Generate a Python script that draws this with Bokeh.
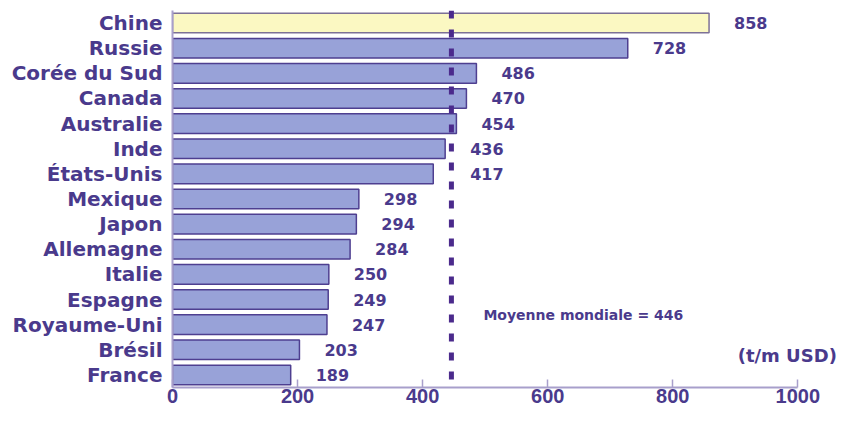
from bokeh.plotting import figure
from bokeh.models import Range1d, FactorRange, Span, Label, ColumnDataSource, FixedTicker
from bokeh.core.properties import value
from bokeh.embed import file_html
from bokeh.resources import INLINE

countries = ["Chine", "Russie", "Corée du Sud", "Canada", "Australie", "Inde", "États-Unis",
             "Mexique", "Japon", "Allemagne", "Italie", "Espagne", "Royaume-Uni", "Brésil", "France"]
values = [858, 728, 486, 470, 454, 436, 417, 298, 294, 284, 250, 249, 247, 203, 189]
world_mean = 446
x_ticks = [0, 200, 400, 600, 800, 1000]
unit_label = "(t/m USD)"
mean_label = "Moyenne mondiale = 446"

FONT = "DejaVu Sans"
TICKFONT = "Liberation Sans"
TXT = "#4a3a8c"
AXIS = "#a89fcb"

fills = ["#fbf8c2" if c == "Chine" else "#98a2d8" for c in countries]
lines = ["#7d7196" if c == "Chine" else "#4e3f90" for c in countries]


def label_pos(v):
    # value label right of the bar, pushed past the mean line when it would overlap it
    x = v + 40
    if world_mean - 60 < x < world_mean + 30:
        x = world_mean + 30
    return x


label_x = [label_pos(v) for v in values]
src = ColumnDataSource(dict(y=countries, v=values, lx=label_x, fill=fills, line=lines,
                            lab=[str(v) for v in values]))

p = figure(width=838, height=407, output_backend="svg", toolbar_location=None,
           x_range=Range1d(0, 1065), y_range=FactorRange(factors=countries[::-1]),
           min_border_left=172, min_border_right=0, min_border_top=10, min_border_bottom=20)
p.outline_line_color = None
p.xgrid.grid_line_color = None
p.ygrid.grid_line_color = None
p.background_fill_color = "white"

p.hbar(y="y", left=0, right="v", height=0.78, fill_color="fill", line_color="line",
       line_width=1.5, source=src)

p.text(x="lx", y="y", text="lab", text_align="left", text_baseline="middle",
       text_font=value(FONT), text_font_style="bold", text_font_size="16px",
       text_color=TXT, source=src)

p.add_layout(Span(location=world_mean, dimension="height", line_color="#4b2a8c",
                  line_width=5, line_dash="8 11"))

p.add_layout(Label(x=world_mean, y=2.9, x_offset=32, text=mean_label, text_align="left",
                   text_baseline="middle", text_font=FONT, text_font_style="bold",
                   text_font_size="14px", text_color=TXT))
p.add_layout(Label(x=1000, y=1.27, x_offset=39, text=unit_label, text_align="right",
                   text_baseline="middle", text_font=FONT, text_font_style="bold",
                   text_font_size="18px", text_color=TXT))

xa = p.xaxis[0]
xa.ticker = FixedTicker(ticks=x_ticks)
xa.bounds = (x_ticks[0], x_ticks[-1])
xa.axis_line_color = AXIS
xa.axis_line_width = 2
xa.major_tick_line_color = AXIS
xa.major_tick_line_width = 1.5
xa.major_tick_in = 8
xa.major_tick_out = 0
xa.minor_tick_line_color = None
xa.major_label_standoff = 1
xa.major_label_text_font = TICKFONT
xa.major_label_text_font_style = "bold"
xa.major_label_text_font_size = "20px"
xa.major_label_text_color = TXT

ya = p.yaxis[0]
ya.axis_line_color = AXIS
ya.axis_line_width = 2
ya.major_tick_line_color = None
ya.major_tick_out = 0
ya.major_tick_in = 0
ya.major_label_standoff = 10
ya.major_label_text_font = FONT
ya.major_label_text_font_style = "bold"
ya.major_label_text_font_size = "20px"
ya.major_label_text_color = TXT

open("out.html", "w").write(file_html(p, INLINE))
